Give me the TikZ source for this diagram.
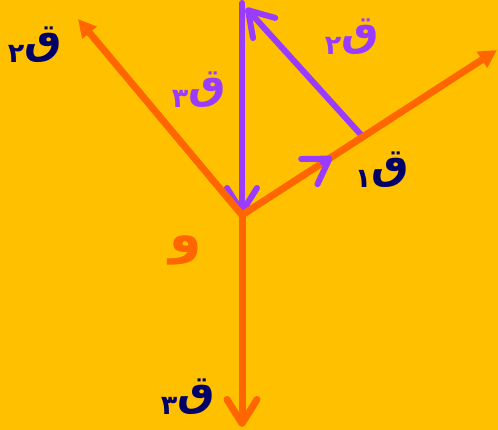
\documentclass[tikz,border=0pt]{standalone}
\usepackage{fontspec}
\TeXXeTstate=1
\newfontfamily\arabicfont[Script=Arabic]{DejaVu Sans}
\usetikzlibrary{arrows.meta,calc}
\definecolor{bg}{RGB}{255,192,0}
\definecolor{orng}{RGB}{255,102,0}
\definecolor{purp}{RGB}{153,60,255}
\definecolor{navy}{RGB}{0,0,102}
\newcommand{\qlab}[1]{\arabicfont\bfseries\beginR ق\raisebox{-9pt}{\fontsize{27}{27}\selectfont #1}\endR}
\tikzset{
  orline/.style={draw=orng, line width=7pt},
  puline/.style={draw=purp, line width=6pt, line cap=round},
  fulltip/.style={-{Triangle[length=18pt,width=18pt]}},
  barbtip/.style={-{Straight Barb[length=24pt,width=30pt,round]}},
  lbl/.style={font=\fontsize{42}{42}\selectfont, inner sep=0pt}
}
\begin{document}
\begin{tikzpicture}[x=1pt,y=-1pt]
\fill[bg] (0,0) rectangle (498,430);
\useasboundingbox (0,0) rectangle (498,430);
\coordinate (O) at (242,215);
\coordinate (A) at (78,19);
\coordinate (B) at (497,50);
\coordinate (C) at (242,427);
\coordinate (T) at (242,3);
\coordinate (P) at (363,137);
\coordinate (Q) at (246,8);
\coordinate (F) at (332,157);
\coordinate (Fs) at ($(O)!0.9!(F)$);
% purple triangle
\draw[puline, barbtip] (T) -- (O);
\draw[puline, barbtip] (P) -- (Q);
% orange vectors
\draw[orline, fulltip] (O) -- (A);
\draw[orline, fulltip] (O) -- (B);
\draw[orline, barbtip, line cap=round] (O) -- (C);
% purple tip of F1 over orange line
\draw[puline, barbtip] (Fs) -- (F);
% labels
\node[lbl, text=navy] (l2) at (35,45) {\qlab{٢}};
\node[lbl, text=purp] (p3) at (199,90) {\qlab{٣}};
\node[lbl, text=purp] (p2) at (352,37) {\qlab{٢}};
\node[lbl, text=navy] (l1) at (382,170) {\qlab{١}};
\node[lbl, text=orng, font=\fontsize{52}{52}\selectfont] (w) at (186,250) {\arabicfont\bfseries\beginR و\endR};
\node[lbl, text=navy] (l3) at (188,397) {\qlab{٣}};
\end{tikzpicture}
\end{document}
